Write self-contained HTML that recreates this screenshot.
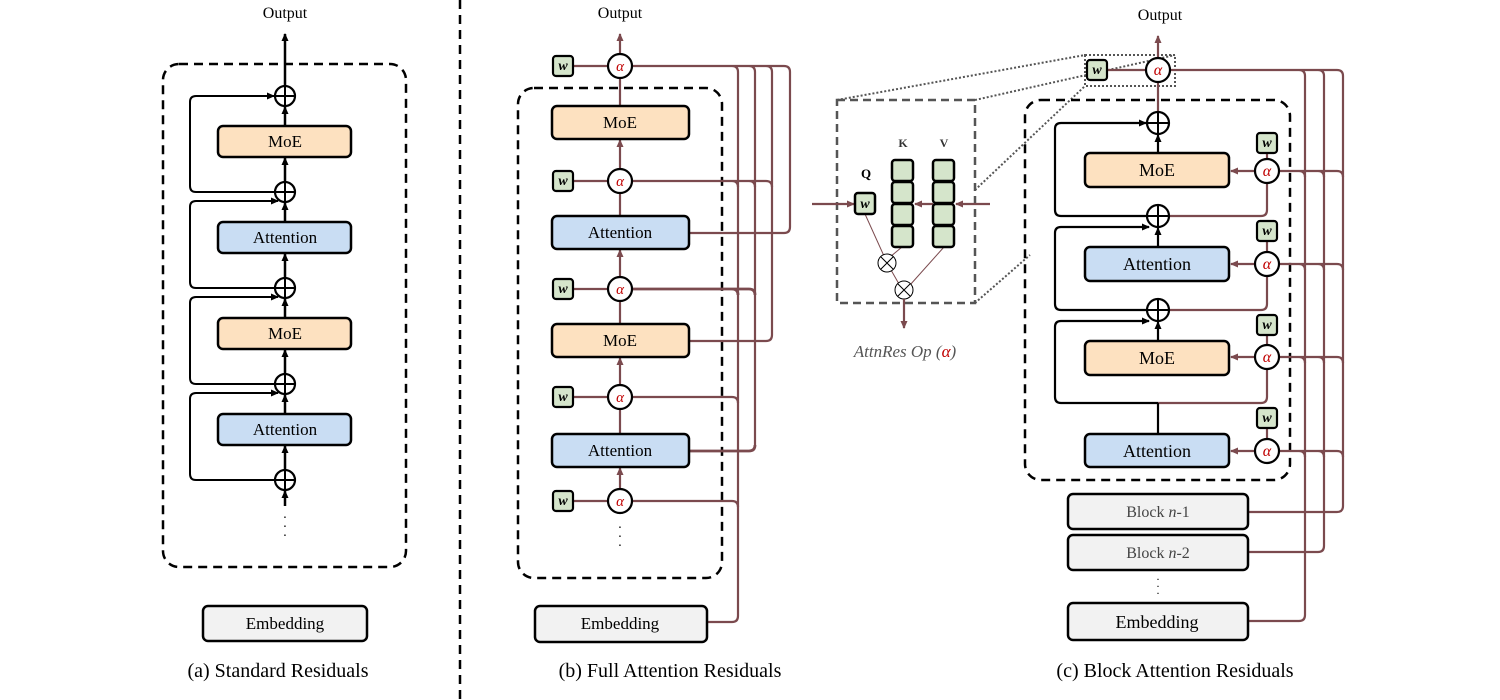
<!DOCTYPE html>
<html><head><meta charset="utf-8"><style>
html,body{margin:0;padding:0;background:#fff}
svg{display:block}
text{font-family:"Liberation Serif",serif}
</style></head><body>
<svg width="1500" height="700" viewBox="0 0 1500 700" xmlns="http://www.w3.org/2000/svg">
<defs>
<marker id="ak" markerWidth="10" markerHeight="10" refX="7" refY="4" orient="auto" markerUnits="userSpaceOnUse"><path d="M0,0.5 L8,4 L0,7.5 Z" fill="#000"/></marker>
<marker id="ab" markerWidth="10" markerHeight="10" refX="7" refY="4" orient="auto" markerUnits="userSpaceOnUse"><path d="M0,0.5 L8,4 L0,7.5 Z" fill="#7b4a4e"/></marker>
</defs>

<!-- ============ (a) ============ -->
<text x="285" y="18" font-size="16" text-anchor="middle">Output</text>
<rect x="163" y="64" width="243" height="503" rx="16" fill="none" stroke="#000" stroke-width="2.5" stroke-dasharray="9,6"/>
<g stroke="#000" stroke-width="2.5" fill="none">
<line x1="285" y1="86" x2="285" y2="34" marker-end="url(#ak)"/>
<line x1="285" y1="126" x2="285" y2="107" marker-end="url(#ak)"/>
<line x1="285" y1="182" x2="285" y2="158" marker-end="url(#ak)"/>
<line x1="285" y1="222" x2="285" y2="203" marker-end="url(#ak)"/>
<line x1="285" y1="278" x2="285" y2="254" marker-end="url(#ak)"/>
<line x1="285" y1="318" x2="285" y2="299" marker-end="url(#ak)"/>
<line x1="285" y1="374" x2="285" y2="350" marker-end="url(#ak)"/>
<line x1="285" y1="414" x2="285" y2="395" marker-end="url(#ak)"/>
<line x1="285" y1="470" x2="285" y2="446" marker-end="url(#ak)"/>
<line x1="285" y1="506" x2="285" y2="491" marker-end="url(#ak)"/>
<path d="M275 192 H196 Q190 192 190 186 V102 Q190 96 196 96 H274" marker-end="url(#ak)" stroke-width="2"/>
<path d="M275 288 H196 Q190 288 190 282 V207 Q190 201 196 201 H278" marker-end="url(#ak)" stroke-width="2"/>
<path d="M275 384 H196 Q190 384 190 378 V303 Q190 297 196 297 H278" marker-end="url(#ak)" stroke-width="2"/>
<path d="M275 480 H196 Q190 480 190 474 V399 Q190 393 196 393 H278" marker-end="url(#ak)" stroke-width="2"/>
</g>
<g fill="#fff" stroke="#000" stroke-width="2.2">
<circle cx="285" cy="96" r="10"/><circle cx="285" cy="192" r="10"/><circle cx="285" cy="288" r="10"/><circle cx="285" cy="384" r="10"/><circle cx="285" cy="480" r="10"/>
</g>
<g stroke="#000" stroke-width="2">
<path d="M275 96H295M285 86V106M275 192H295M285 182V202M275 288H295M285 278V298M275 384H295M285 374V394M275 480H295M285 470V490"/>
</g>
<g stroke="#000" stroke-width="2.5">
<rect x="218" y="126" width="133" height="31" rx="5" fill="#fde1c0"/>
<rect x="218" y="222" width="133" height="31" rx="5" fill="#c9ddf3"/>
<rect x="218" y="318" width="133" height="31" rx="5" fill="#fde1c0"/>
<rect x="218" y="414" width="133" height="31" rx="5" fill="#c9ddf3"/>
<rect x="203" y="606" width="164" height="35" rx="5" fill="#f2f2f2"/>
</g>
<g font-size="17" text-anchor="middle">
<text x="285" y="147">MoE</text><text x="285" y="243">Attention</text><text x="285" y="339">MoE</text><text x="285" y="435">Attention</text><text x="285" y="629">Embedding</text>
</g>
<text x="285" y="522" font-size="14" text-anchor="middle">·</text><text x="285" y="531" font-size="14" text-anchor="middle">·</text><text x="285" y="540" font-size="14" text-anchor="middle">·</text>
<text x="278" y="677" font-size="20" text-anchor="middle">(a) Standard Residuals</text>

<line x1="460" y1="0" x2="460" y2="700" stroke="#000" stroke-width="2.5" stroke-dasharray="9,6"/>

<!-- ============ (b) ============ -->
<text x="620" y="18" font-size="16" text-anchor="middle">Output</text>
<rect x="518" y="88" width="204" height="490" rx="16" fill="none" stroke="#000" stroke-width="2.5" stroke-dasharray="9,6"/>
<g stroke="#7b4a4e" stroke-width="2.2" fill="none">
<line x1="620" y1="54" x2="620" y2="34" marker-end="url(#ab)"/>
<line x1="620" y1="106" x2="620" y2="78"/>
<line x1="620" y1="169" x2="620" y2="140" marker-end="url(#ab)"/>
<line x1="620" y1="216" x2="620" y2="193"/>
<line x1="620" y1="277" x2="620" y2="250" marker-end="url(#ab)"/>
<line x1="620" y1="324" x2="620" y2="301"/>
<line x1="620" y1="385" x2="620" y2="358" marker-end="url(#ab)"/>
<line x1="620" y1="434" x2="620" y2="409"/>
<line x1="620" y1="489" x2="620" y2="468" marker-end="url(#ab)"/>
<path d="M573 66H608M573 181H608M573 289H608M573 397H608M573 501H608"/>
<line x1="738" y1="72" x2="738" y2="616"/>
<line x1="755" y1="72" x2="755" y2="445"/>
<line x1="772" y1="72" x2="772" y2="335"/>
<line x1="790" y1="72" x2="790" y2="227"/>
<path d="M632 66H784Q790 66 790 72M732 66Q738 66 738 72M749 66Q755 66 755 72M766 66Q772 66 772 72"/>
<path d="M632 181H766Q772 181 772 187M732 181Q738 181 738 187M749 181Q755 181 755 187"/>
<path d="M632 289H749Q755 289 755 295M732 289Q738 289 738 295" stroke-width="2.8"/>
<path d="M632 397H732Q738 397 738 403"/>
<path d="M632 501H732Q738 501 738 507"/>
<path d="M689 233H784Q790 233 790 227"/>
<path d="M689 341H766Q772 341 772 335"/>
<path d="M689 451H749Q755 451 755 445" stroke-width="2.8"/>
<path d="M707 622H732Q738 622 738 616"/>
</g>
<g fill="#fff" stroke="#000" stroke-width="2.2">
<circle cx="620" cy="66" r="12"/><circle cx="620" cy="181" r="12"/><circle cx="620" cy="289" r="12"/><circle cx="620" cy="397" r="12"/><circle cx="620" cy="501" r="12"/>
</g>
<g font-size="15" fill="#c00000" text-anchor="middle" font-style="italic">
<text x="620" y="71">α</text><text x="620" y="186">α</text><text x="620" y="294">α</text><text x="620" y="402">α</text><text x="620" y="506">α</text>
</g>
<g fill="#d5e5cb" stroke="#000" stroke-width="2.2">
<rect x="553" y="56" width="20" height="20" rx="3"/><rect x="553" y="171" width="20" height="20" rx="3"/><rect x="553" y="279" width="20" height="20" rx="3"/><rect x="553" y="387" width="20" height="20" rx="3"/><rect x="553" y="491" width="20" height="20" rx="3"/>
</g>
<g font-size="14" text-anchor="middle" font-style="italic" font-weight="bold">
<text x="563" y="70">w</text><text x="563" y="185">w</text><text x="563" y="293">w</text><text x="563" y="401">w</text><text x="563" y="505">w</text>
</g>
<g stroke="#000" stroke-width="2.5">
<rect x="552" y="106" width="137" height="33" rx="5" fill="#fde1c0"/>
<rect x="552" y="216" width="137" height="33" rx="5" fill="#c9ddf3"/>
<rect x="552" y="324" width="137" height="33" rx="5" fill="#fde1c0"/>
<rect x="552" y="434" width="137" height="33" rx="5" fill="#c9ddf3"/>
<rect x="535" y="606" width="172" height="36" rx="5" fill="#f2f2f2"/>
</g>
<g font-size="17" text-anchor="middle">
<text x="620" y="128">MoE</text><text x="620" y="238">Attention</text><text x="620" y="346">MoE</text><text x="620" y="456">Attention</text><text x="620" y="629">Embedding</text>
</g>
<text x="620" y="532" font-size="14" text-anchor="middle">·</text><text x="620" y="541" font-size="14" text-anchor="middle">·</text><text x="620" y="550" font-size="14" text-anchor="middle">·</text>
<text x="670" y="677" font-size="20" text-anchor="middle">(b) Full Attention Residuals</text>

<!-- ============ (c) inset ============ -->
<g stroke="#555" stroke-width="2" stroke-dasharray="2,2" fill="none">
<rect x="1085" y="55" width="90" height="31"/>
<line x1="837" y1="100" x2="1085" y2="55"/>
<line x1="975" y1="100" x2="1175" y2="55"/>
<line x1="975" y1="190" x2="1085" y2="86"/>
<line x1="975" y1="303" x2="1030" y2="255"/>
</g>
<rect x="837" y="100" width="138" height="203" fill="none" stroke="#555" stroke-width="2.5" stroke-dasharray="8,5"/>
<text x="866" y="178" font-size="13" font-weight="bold" text-anchor="middle">Q</text>
<text x="903" y="147" font-size="12" font-weight="bold" text-anchor="middle" fill="#333">K</text>
<text x="944" y="147" font-size="12" font-weight="bold" text-anchor="middle" fill="#333">V</text>
<g stroke="#7b4a4e" stroke-width="1">
<line x1="865" y1="214" x2="884" y2="256"/><line x1="902" y1="247" x2="890" y2="257"/><line x1="891" y1="270" x2="899" y2="284"/><line x1="944" y1="247" x2="910" y2="285"/>
</g>
<g fill="#fff" stroke="#000" stroke-width="1">
<circle cx="887" cy="263" r="9"/><circle cx="904" cy="290" r="9"/>
</g>
<path d="M881 257L893 269M893 257L881 269M898 284L910 296M910 284L898 296" stroke="#000" stroke-width="1"/>
<g stroke="#7b4a4e" stroke-width="2.2" fill="none">
<line x1="812" y1="204" x2="854" y2="204" marker-end="url(#ab)"/>
<line x1="990" y1="204" x2="956" y2="204" marker-end="url(#ab)"/>
<line x1="933" y1="204" x2="915" y2="204" marker-end="url(#ab)"/>
<line x1="904" y1="299" x2="904" y2="328" marker-end="url(#ab)"/>
</g>
<g fill="#d5e5cb" stroke="#000" stroke-width="2.5">
<rect x="855" y="193" width="20" height="21" rx="3"/>
<rect x="892" y="160" width="21" height="21" rx="3"/><rect x="892" y="182" width="21" height="21" rx="3"/><rect x="892" y="204" width="21" height="21" rx="3"/><rect x="892" y="226" width="21" height="21" rx="3"/>
<rect x="933" y="160" width="21" height="21" rx="3"/><rect x="933" y="182" width="21" height="21" rx="3"/><rect x="933" y="204" width="21" height="21" rx="3"/><rect x="933" y="226" width="21" height="21" rx="3"/>
</g>
<text x="865" y="208" font-size="14" text-anchor="middle" font-style="italic" font-weight="bold">w</text>
<text x="905" y="357" font-size="17" text-anchor="middle" font-style="italic" fill="#555">AttnRes Op (<tspan fill="#c00000">α</tspan>)</text>

<!-- ============ (c) main ============ -->
<text x="1160" y="20" font-size="16" text-anchor="middle">Output</text>
<rect x="1025" y="100" width="265" height="380" rx="16" fill="none" stroke="#000" stroke-width="2.5" stroke-dasharray="9,6"/>
<g stroke="#7b4a4e" stroke-width="2.2" fill="none">
<line x1="1158" y1="58" x2="1158" y2="36" marker-end="url(#ab)"/>
<line x1="1158" y1="112" x2="1158" y2="82"/>
<line x1="1107" y1="70" x2="1146" y2="70"/>
<path d="M1267 183V210Q1267 216 1261 216H1169"/>
<path d="M1267 276V304Q1267 310 1261 310H1169"/>
<path d="M1267 369V397Q1267 403 1261 403H1158"/>
<line x1="1267" y1="153" x2="1267" y2="159"/><line x1="1267" y1="241" x2="1267" y2="252"/><line x1="1267" y1="335" x2="1267" y2="345"/><line x1="1267" y1="428" x2="1267" y2="439"/>
<line x1="1255" y1="171" x2="1231" y2="171" marker-end="url(#ab)"/>
<line x1="1255" y1="264" x2="1231" y2="264" marker-end="url(#ab)"/>
<line x1="1255" y1="357" x2="1231" y2="357" marker-end="url(#ab)"/>
<line x1="1255" y1="451" x2="1231" y2="451" marker-end="url(#ab)"/>
<line x1="1305" y1="76" x2="1305" y2="615"/>
<line x1="1324" y1="76" x2="1324" y2="546"/>
<line x1="1343" y1="76" x2="1343" y2="506"/>
<path d="M1170 70H1337Q1343 70 1343 76M1299 70Q1305 70 1305 76M1318 70Q1324 70 1324 76"/>
<path d="M1279 171H1337Q1343 171 1343 177M1299 171Q1305 171 1305 177M1318 171Q1324 171 1324 177"/>
<path d="M1279 264H1337Q1343 264 1343 270M1299 264Q1305 264 1305 270M1318 264Q1324 264 1324 270"/>
<path d="M1279 357H1337Q1343 357 1343 363M1299 357Q1305 357 1305 363M1318 357Q1324 357 1324 363"/>
<path d="M1279 451H1337Q1343 451 1343 457M1299 451Q1305 451 1305 457M1318 451Q1324 451 1324 457"/>
<path d="M1248 512H1337Q1343 512 1343 506"/>
<path d="M1248 552H1318Q1324 552 1324 546"/>
<path d="M1248 621H1299Q1305 621 1305 615"/>
</g>
<g stroke="#000" stroke-width="2.2" fill="none">
<line x1="1158" y1="153" x2="1158" y2="135" marker-end="url(#ak)"/>
<line x1="1158" y1="247" x2="1158" y2="228" marker-end="url(#ak)"/>
<line x1="1158" y1="341" x2="1158" y2="322" marker-end="url(#ak)"/>
<line x1="1158" y1="434" x2="1158" y2="403"/>
<path d="M1147 216H1061Q1055 216 1055 210V129Q1055 123 1061 123H1146" marker-end="url(#ak)"/>
<path d="M1147 310H1061Q1055 310 1055 304V233Q1055 227 1061 227H1149" marker-end="url(#ak)"/>
<path d="M1158 403H1061Q1055 403 1055 397V327Q1055 321 1061 321H1149" marker-end="url(#ak)"/>
</g>
<g fill="#fff" stroke="#000" stroke-width="2.2">
<circle cx="1158" cy="123" r="11"/><circle cx="1158" cy="216" r="11"/><circle cx="1158" cy="310" r="11"/>
</g>
<path d="M1147 123H1169M1158 112V134M1147 216H1169M1158 205V227M1147 310H1169M1158 299V321" stroke="#000" stroke-width="2"/>
<g fill="#fff" stroke="#000" stroke-width="2.2">
<circle cx="1158" cy="70" r="12"/><circle cx="1267" cy="171" r="12"/><circle cx="1267" cy="264" r="12"/><circle cx="1267" cy="357" r="12"/><circle cx="1267" cy="451" r="12"/>
</g>
<g font-size="16" fill="#c00000" text-anchor="middle" font-style="italic">
<text x="1158" y="75">α</text><text x="1267" y="176">α</text><text x="1267" y="269">α</text><text x="1267" y="362">α</text><text x="1267" y="456">α</text>
</g>
<g fill="#d5e5cb" stroke="#000" stroke-width="2.2">
<rect x="1087" y="60" width="20" height="20" rx="3"/>
<rect x="1257" y="133" width="20" height="20" rx="3"/><rect x="1257" y="221" width="20" height="20" rx="3"/><rect x="1257" y="315" width="20" height="20" rx="3"/><rect x="1257" y="408" width="20" height="20" rx="3"/>
</g>
<g font-size="14" text-anchor="middle" font-style="italic" font-weight="bold">
<text x="1097" y="74">w</text><text x="1267" y="147">w</text><text x="1267" y="235">w</text><text x="1267" y="329">w</text><text x="1267" y="422">w</text>
</g>
<g stroke="#000" stroke-width="2.5">
<rect x="1085" y="153" width="144" height="34" rx="5" fill="#fde1c0"/>
<rect x="1085" y="247" width="144" height="34" rx="5" fill="#c9ddf3"/>
<rect x="1085" y="341" width="144" height="34" rx="5" fill="#fde1c0"/>
<rect x="1085" y="434" width="144" height="33" rx="5" fill="#c9ddf3"/>
<rect x="1068" y="494" width="180" height="35" rx="5" fill="#f2f2f2"/>
<rect x="1068" y="535" width="180" height="35" rx="5" fill="#f2f2f2"/>
<rect x="1068" y="603" width="180" height="37" rx="5" fill="#f2f2f2"/>
</g>
<g font-size="18" text-anchor="middle">
<text x="1157" y="176">MoE</text><text x="1157" y="270">Attention</text><text x="1157" y="364">MoE</text><text x="1157" y="457">Attention</text><text x="1157" y="628">Embedding</text>
</g>
<g font-size="16" text-anchor="middle" fill="#444">
<text x="1158" y="517">Block <tspan font-style="italic">n</tspan>-1</text><text x="1158" y="558">Block <tspan font-style="italic">n</tspan>-2</text>
</g>
<text x="1158" y="583" font-size="12" text-anchor="middle">·</text><text x="1158" y="590" font-size="12" text-anchor="middle">·</text><text x="1158" y="597" font-size="12" text-anchor="middle">·</text>
<text x="1175" y="677" font-size="20" text-anchor="middle">(c) Block Attention Residuals</text>
</svg>
</body></html>
